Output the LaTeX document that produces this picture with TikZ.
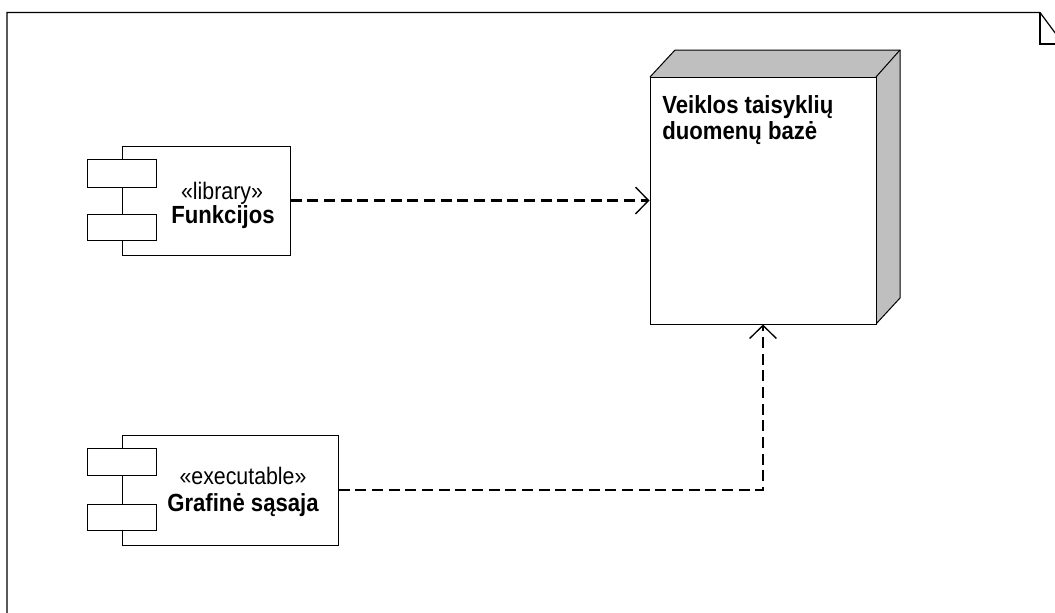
\documentclass[tikz,border=0pt]{standalone}
\usepackage{fontspec}
\setmainfont{Liberation Sans}
\usetikzlibrary{arrows.meta}
% taller glyphs, as the UML tool renders them
\newcommand{\tallbox}[1]{\scalebox{1}[1.12]{#1}}
\begin{document}
\begin{tikzpicture}[x=0.75pt,y=-0.75pt,
  box/.style={draw=black,line width=0.75pt,fill=white,inner sep=0pt,rectangle},
  port/.style={box,minimum width=51.75pt},
  lbl/.style={inner sep=0pt,anchor=base,font=\fontsize{16}{18}\selectfont},
  bold/.style={font=\fontsize{16.6}{18}\selectfont\bfseries},
  dep/.style={line width=1.9pt,dash pattern=on 8.25pt off 4.25pt,
    -{Straight Barb[length=9.75pt,width=20pt,line width=1pt,sep=0pt]}},
  frame/.style={line width=0.9pt}]
\useasboundingbox (0,0) rectangle (1055,612);
\clip (0,0) rectangle (1055,612);

% diagram frame with folded corner
\draw[frame] (7,640) -- (7,12.5) -- (1040,12.5) -- (1070,53);
\draw[frame] (1040,12.5) -- (1040,44) -- (1070,44);

% node: rule database (3D box)
\fill[black!25] (650,77) -- (675,50) -- (900,50) -- (900,298) -- (876,324) -- (876,77) -- cycle;
\draw[line width=0.75pt] (650,77) -- (675,50) -- (900,50) -- (900,298) -- (876,324);
\draw[line width=0.75pt] (876,77) -- (900,50);
\node[box,minimum width=169.5pt,minimum height=185.25pt] (db) at (763,200.5) {};
\node[lbl,bold,anchor=base west] (dbt1) at (662,113) {\tallbox{Veiklos taisyklių}};
\node[lbl,bold,anchor=base west] (dbt2) at (662,139) {\tallbox{duomenų bazė}};

% component: library
\node[box,minimum width=126pt,minimum height=81.75pt] (fk) at (206,200.5) {};
\node[port,minimum height=21pt] (fkp1) at (121.5,173) {};
\node[port,minimum height=19.5pt] (fkp2) at (121.5,227) {};
\node[lbl] (fks) at (222,199.5) {\tallbox{«library»}};
\node[lbl,bold] (fkn) at (223,223) {\tallbox{Funkcijos}};

% component: executable
\node[box,minimum width=162pt,minimum height=82.5pt] (gs) at (230,490) {};
\node[port,minimum height=20.25pt] (gsp1) at (121.5,461.5) {};
\node[port,minimum height=19.5pt] (gsp2) at (121.5,517) {};
\node[lbl] (gss) at (243,484.5) {\tallbox{«executable»}};
\node[lbl,bold] (gsn) at (243,511) {\tallbox{Grafinė sąsaja}};

% dependencies
\draw[dep] (fk.east) -- (db.west |- fk.east);
\draw[dep] (gs.east) -| (db.south);
\end{tikzpicture}
\end{document}
